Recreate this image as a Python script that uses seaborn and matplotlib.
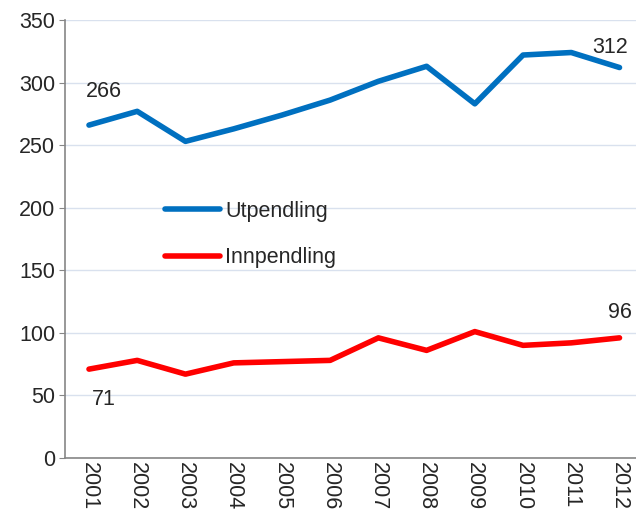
import matplotlib
matplotlib.use("Agg")
import matplotlib.pyplot as plt
from matplotlib.lines import Line2D
import seaborn as sns
import pandas as pd

# Pendling per year
years = [2001, 2002, 2003, 2004, 2005, 2006, 2007, 2008, 2009, 2010, 2011, 2012]
utpendling = [266, 277, 253, 263, 274, 286, 301, 313, 283, 322, 324, 312]
innpendling = [71, 78, 67, 76, 77, 78, 96, 86, 101, 90, 92, 96]
series_names = ["Utpendling", "Innpendling"]
y_ticks = [0, 50, 100, 150, 200, 250, 300, 350]

colors = {"Utpendling": "#0070C0", "Innpendling": "#FF0000"}
fs = 15.5
lw = 4

df = pd.DataFrame({
    "År": years * 2,
    "Antall": utpendling + innpendling,
    "Serie": [series_names[0]] * len(years) + [series_names[1]] * len(years),
})

sns.set_style("white")
plt.rcParams["font.family"] = ["Liberation Sans", "DejaVu Sans"]

fig = plt.figure(figsize=(6.36, 5.15), dpi=100)
ax = fig.add_axes([0.102, 0.1107, 0.910, 0.8505])

sns.lineplot(data=df, x="År", y="Antall", hue="Serie", palette=colors,
             linewidth=lw, legend=False, ax=ax, solid_capstyle="round")

ax.set_xlim(years[0] - 0.5, years[-1] + 0.5)
ax.set_ylim(0, 350)
ax.set_yticks(y_ticks)
ax.set_xticks(years)
ax.set_xticklabels([str(y) for y in years], rotation=270, fontsize=fs)
ax.tick_params(axis="y", labelsize=fs, length=4, color="#868686", left=True, pad=3)
ax.tick_params(axis="x", length=0, pad=3)
ax.set_xlabel("")
ax.set_ylabel("")

ax.yaxis.grid(True, color="#D9E1EE", linewidth=1)
ax.xaxis.grid(False)
ax.set_axisbelow(True)
for side in ["top", "right"]:
    ax.spines[side].set_visible(False)
for side in ["left", "bottom"]:
    ax.spines[side].set_color("#868686")
    ax.spines[side].set_linewidth(1.2)

# first and last values
ax.text(years[0] + 0.31, utpendling[0] + 27, str(utpendling[0]), ha="center", va="center", fontsize=fs)
ax.text(years[-1] - 0.2, utpendling[-1] + 16, str(utpendling[-1]), ha="center", va="center", fontsize=fs)
ax.text(years[0] + 0.31, innpendling[0] - 24, str(innpendling[0]), ha="center", va="center", fontsize=fs)
ax.text(years[-1], innpendling[-1] + 20, str(innpendling[-1]), ha="center", va="center", fontsize=fs)

handles = [Line2D([0], [0], color=colors[n], linewidth=lw, solid_capstyle="round") for n in series_names]
fig.legend(handles, series_names, loc="upper left", bbox_to_anchor=(0.259, 0.61),
           frameon=False, fontsize=fs, handlelength=2.55, handletextpad=0.25,
           labelspacing=1.19, borderpad=0, borderaxespad=0)

fig.savefig("out.png", dpi=100)
